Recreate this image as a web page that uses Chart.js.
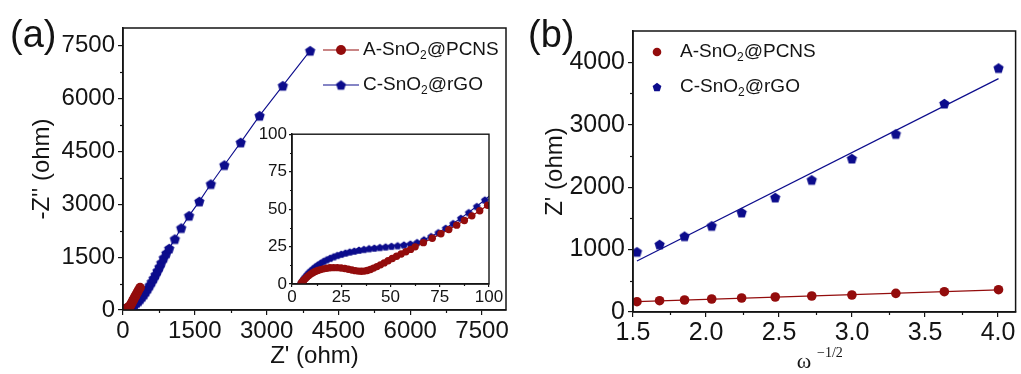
<!DOCTYPE html>
<html>
<head>
<meta charset="utf-8">
<title>EIS of SnO2 composites</title>
<script src="https://cdn.jsdelivr.net/npm/chart.js@4.4.1/dist/chart.umd.min.js"></script>
<style>
  html, body { margin: 0; padding: 0; background: #fff; }
  body { position: relative; width: 1021px; height: 374px; overflow: hidden; }
  .panel { position: absolute; }
</style>
</head>
<body>
<canvas class="panel" id="nyquist" width="520" height="374" style="left:0;top:0"></canvas>
<canvas class="panel" id="nyquistZoom" width="265" height="188" style="left:245px;top:122px"></canvas>
<canvas class="panel" id="warburg" width="511" height="374" style="left:510px;top:0"></canvas>
<script>
// ---------- data ----------
// Low-frequency points (Warburg region): omega^-1/2 and the real impedance Z' (ohm)
const omegaInvSqrt = [1.527, 1.682, 1.853, 2.039, 2.244, 2.474, 2.724, 2.999, 3.300, 3.632, 4.003];
const pcnsZreLF = [165, 181, 192, 208, 224, 240, 256, 272, 299, 325, 357];
const rgoZreLF  = [965, 1083, 1216, 1381, 1595, 1835, 2117, 2459, 2853, 3339, 3909];
// -Z'' (ohm) at the same low-frequency points
const pcnsZimLF = [155, 195, 225, 265, 305, 345, 385, 425, 490, 560, 635];
const rgoZimLF  = [1748, 2015, 2327, 2676, 3082, 3575, 4115, 4756, 5514, 6365, 7358];

// High/mid-frequency points, A-SnO2@PCNS: Z' and -Z'' (ohm)
const pcnsZreHF = [4.6, 5.0, 5.5, 6.1, 6.8, 7.6, 8.5, 9.5, 10.6, 11.8, 13.1, 14.5, 16.0, 17.6, 19.3, 21.1,
  23.0, 24.9, 26.8, 28.6, 30.4, 32.1, 33.7, 35.2, 36.7, 38.2, 39.8, 41.4, 43.1, 44.9, 46.8, 48.8, 50.9,
  53.1, 55.4, 57.8, 60.2, 62.5, 66.7, 71.2, 75.6, 79.6, 83.6, 87.5, 91.3, 95.3, 99.3, 103.3,
  108, 115, 122, 129, 136, 143, 150, 157];
const pcnsZimHF = [0.3, 1.0, 1.8, 2.7, 3.6, 4.6, 5.6, 6.6, 7.5, 8.3, 9.0, 9.6, 10.1, 10.5, 10.8, 10.9,
  10.9, 10.7, 10.3, 9.8, 9.3, 8.9, 8.6, 8.5, 8.6, 9.0, 9.7, 10.6, 11.6, 12.8, 14.1, 15.5, 17.0,
  18.5, 20.0, 21.5, 23.1, 24.8, 27.6, 30.5, 33.5, 36.3, 39.3, 42.4, 45.5, 48.9, 52.6, 56.5,
  60, 67, 75, 84, 94, 105, 118, 133];

// High/mid-frequency points, C-SnO2@rGO: Z' and -Z'' (ohm)
const rgoZreHF = [4.6, 5.0, 5.5, 6.1, 6.8, 7.6, 8.5, 9.5, 10.6, 11.8, 13.1, 14.5, 16.0, 17.6, 19.3, 21.1,
  23.0, 25.0, 27.1, 29.3, 31.6, 34.0, 36.5, 39.1, 41.8, 44.6, 47.5, 50.5, 53.6, 56.8, 60.1, 63.5, 67.0,
  70.6, 74.3, 78.0, 81.8, 85.7, 89.7, 93.8, 97.9, 102.0,
  110, 130, 160, 200, 240, 280, 320, 360, 400, 440, 480, 520, 560, 600, 640, 680, 720, 760, 800, 850, 905];
const rgoZimHF = [0.5, 1.5, 2.6, 3.8, 5.0, 6.3, 7.6, 8.9, 10.2, 11.5, 12.8, 14.0, 15.2, 16.3, 17.3, 18.3,
  19.2, 20.0, 20.8, 21.5, 22.1, 22.7, 23.2, 23.7, 24.1, 24.5, 24.9, 25.3, 25.7, 26.2, 26.8, 27.8, 29.6,
  31.8, 34.4, 37.3, 40.5, 44.0, 47.8, 51.9, 56.2, 60.8,
  66, 78, 95, 125, 160, 205, 255, 315, 380, 450, 530, 615, 705, 800, 900, 1000, 1110, 1220, 1340, 1480, 1610];

// Tick labels
const zTicksMain = [0, 1500, 3000, 4500, 6000, 7500];
const zTicksZoom = [0, 25, 50, 75, 100];
const omegaTicks = [1.5, 2.0, 2.5, 3.0, 3.5, 4.0];
const zTicksWarburg = [0, 1000, 2000, 3000, 4000];

const seriesNames = ['A-SnO2@PCNS', 'C-SnO2@rGO'];

// ---------- styling ----------
const RED = '#930c0c';
const BLUE = '#0c0c8c';
const INK = '#141414';
const SANS = "'Liberation Sans', Arial, Helvetica, sans-serif";
const SERIF = "'Liberation Serif', 'Times New Roman', serif";

Chart.defaults.font.family = SANS;
Chart.defaults.color = INK;

function pentagon(r, color) {
  const s = Math.ceil(2 * r + 2);
  const c = document.createElement('canvas');
  c.width = s; c.height = s;
  const g = c.getContext('2d');
  g.fillStyle = color;
  g.beginPath();
  const cx = s / 2, cy = s / 2 + r * 0.1;
  for (let i = 0; i < 5; i++) {
    const a = -Math.PI / 2 + i * 2 * Math.PI / 5;
    const px = cx + r * Math.cos(a), py = cy + r * Math.sin(a);
    if (i) g.lineTo(px, py); else g.moveTo(px, py);
  }
  g.closePath();
  g.fill();
  return c;
}

const toPoints = (xs, ys) => xs.map((x, i) => ({ x, y: ys[i] }));
const pcnsNyquist = toPoints(pcnsZreHF.concat(pcnsZreLF), pcnsZimHF.concat(pcnsZimLF));
const rgoNyquist = toPoints(rgoZreHF.concat(rgoZreLF), rgoZimHF.concat(rgoZimLF));

// least-squares line through the Warburg points
function linearFit(xs, ys) {
  const n = xs.length;
  const mx = xs.reduce((a, b) => a + b, 0) / n;
  const my = ys.reduce((a, b) => a + b, 0) / n;
  let sxy = 0, sxx = 0;
  for (let i = 0; i < n; i++) { sxy += (xs[i] - mx) * (ys[i] - my); sxx += (xs[i] - mx) ** 2; }
  const k = sxy / sxx;
  return x => my + k * (x - mx);
}
function fitLine(xs, ys) {
  const f = linearFit(xs, ys);
  const x0 = xs[0], x1 = xs[xs.length - 1];
  return [{ x: x0, y: f(x0) }, { x: x1, y: f(x1) }];
}

function minorValues(majors, min, max) {
  const step = majors[1] - majors[0];
  const out = [];
  const first = majors[0] - step / 2;
  if (first > min) out.push(first);
  majors.forEach(v => { const m = v + step / 2; if (m < max) out.push(m); });
  return out;
}

// frame, white plot background and minor ticks
const framePlugin = {
  id: 'frame',
  beforeDraw(chart, args, opts) {
    if (opts.fill) {
      const a = chart.chartArea, ctx = chart.ctx;
      ctx.save();
      ctx.fillStyle = '#fff';
      ctx.fillRect(a.left, a.top, a.right - a.left, a.bottom - a.top);
      ctx.restore();
    }
  },
  afterDraw(chart, args, opts) {
    const a = chart.chartArea, ctx = chart.ctx;
    ctx.save();
    ctx.strokeStyle = INK;
    ctx.lineWidth = opts.lineWidth || 1.5;
    ctx.strokeRect(a.left, a.top, a.right - a.left, a.bottom - a.top);
    ctx.lineWidth = 1.2;
    const len = opts.minorLength || 3;
    const xs = chart.scales.x, ys = chart.scales.y;
    (opts.minorX || []).forEach(v => {
      const p = Math.round(xs.getPixelForValue(v)) + 0.5;
      ctx.beginPath(); ctx.moveTo(p, a.bottom); ctx.lineTo(p, a.bottom + len); ctx.stroke();
    });
    (opts.minorY || []).forEach(v => {
      const p = Math.round(ys.getPixelForValue(v)) + 0.5;
      ctx.beginPath(); ctx.moveTo(a.left - len, p); ctx.lineTo(a.left, p); ctx.stroke();
    });
    ctx.restore();
  }
};

// text with a subscript "2" after "SnO"
function drawFormula(ctx, text, x, y, size) {
  const idx = text.indexOf('SnO2') + 4;
  const head = text.slice(0, idx - 1), tail = text.slice(idx);
  ctx.font = size + 'px ' + SANS;
  ctx.textBaseline = 'middle';
  ctx.textAlign = 'left';
  ctx.fillStyle = INK;
  ctx.fillText(head, x, y);
  let w = ctx.measureText(head).width;
  ctx.font = Math.round(size * 0.62) + 'px ' + SANS;
  ctx.fillText('2', x + w, y + size * 0.3);
  w += ctx.measureText('2').width;
  ctx.font = size + 'px ' + SANS;
  ctx.fillText(tail, x + w, y);
}

const annotatePlugin = {
  id: 'annotate',
  afterDraw(chart, args, opts) {
    const ctx = chart.ctx;
    ctx.save();
    if (opts.panel) {
      ctx.font = '38px ' + SANS;
      ctx.fillStyle = INK;
      ctx.textBaseline = 'alphabetic';
      ctx.textAlign = 'left';
      ctx.fillText(opts.panel.text, opts.panel.x, opts.panel.y);
    }
    if (opts.legend) {
      const L = opts.legend;
      L.items.forEach((it, i) => {
        const y = L.y + i * L.gap;
        if (L.line) {
          ctx.strokeStyle = it.color;
          ctx.lineWidth = 1.2;
          ctx.beginPath(); ctx.moveTo(L.x - L.line, y); ctx.lineTo(L.x + L.line, y); ctx.stroke();
        }
        if (it.shape === 'circle') {
          ctx.fillStyle = it.color;
          ctx.beginPath(); ctx.arc(L.x, y, it.r, 0, Math.PI * 2); ctx.fill();
        } else {
          const img = pentagon(it.r, it.color);
          ctx.drawImage(img, L.x - img.width / 2, y - img.height / 2);
        }
        drawFormula(ctx, it.text, L.textX, y, L.size);
      });
    }
    if (opts.omegaTitle) {
      const t = opts.omegaTitle;
      ctx.fillStyle = INK;
      ctx.textBaseline = 'middle';
      ctx.textAlign = 'center';
      ctx.font = '22px ' + SERIF;
      ctx.fillText('\u03C9', t.x, t.y);
      ctx.textAlign = 'left';
      ctx.font = '14px ' + SERIF;
      ctx.fillText('\u22121/2', t.x + 13, t.y - 9);
    }
    ctx.restore();
  }
};

function axis(opts) {
  return {
    type: 'linear',
    min: opts.min, max: opts.max,
    afterBuildTicks: s => { s.ticks = opts.ticks.map(v => ({ value: v })); },
    afterFit: s => { if (opts.width != null) s.width = opts.width; if (opts.height != null) s.height = opts.height; },
    grid: { display: true, drawOnChartArea: false, drawTicks: true, tickLength: opts.tickLength, color: INK, lineWidth: 1.2 },
    border: { display: true, color: INK, width: 1.5 },
    ticks: {
      font: { size: opts.fontSize }, color: INK, padding: opts.padding,
      maxRotation: 0, autoSkip: false,
      callback: opts.format || (v => String(v))
    },
    title: opts.title ? { display: true, text: opts.title, font: { size: opts.titleSize }, color: INK, padding: opts.titlePadding } : { display: false }
  };
}

function scatterSet(label, data, color, r, pent, showLine) {
  return {
    label, data,
    showLine: showLine,
    borderColor: color, backgroundColor: color, borderWidth: 1.1,
    pointStyle: pent ? pentagon(r, color) : 'circle',
    pointRadius: r, pointBorderWidth: 0, pointHoverRadius: r,
    tension: 0
  };
}

const common = {
  responsive: false, animation: false, devicePixelRatio: 1,
  events: [],
  plugins: { legend: { display: false }, tooltip: { enabled: false } }
};

// ---------- (a) Nyquist plot ----------
new Chart(document.getElementById('nyquist'), {
  type: 'scatter',
  data: {
    datasets: [
      scatterSet(seriesNames[0], pcnsNyquist, RED, 4.8, false, true),
      scatterSet(seriesNames[1], rgoNyquist, BLUE, 5.4, true, true)
    ]
  },
  options: Object.assign({}, common, {
    layout: { padding: { left: 0, top: 28, right: 14, bottom: 0 } },
    scales: {
      x: axis({ min: 0, max: 8000, ticks: zTicksMain, height: 64, tickLength: 5, fontSize: 24, padding: 2,
        title: "Z' (ohm)", titleSize: 24, titlePadding: { top: 0, bottom: 3 } }),
      y: axis({ min: 0, max: 8000, ticks: zTicksMain, width: 123, tickLength: 5, fontSize: 24, padding: 3,
        title: "-Z'' (ohm)", titleSize: 24, titlePadding: { top: 28, bottom: 0 } })
    },
    plugins: Object.assign({}, common.plugins, {
      frame: { minorX: minorValues(zTicksMain, 0, 8000), minorY: minorValues(zTicksMain, 0, 8000), minorLength: 3 },
      annotate: {
        panel: { text: '(a)', x: 10, y: 47 },
        legend: {
          x: 341, y: 50, gap: 35, line: 18, textX: 363, size: 19,
          items: [
            { text: seriesNames[0], color: RED, shape: 'circle', r: 5 },
            { text: seriesNames[1], color: BLUE, shape: 'pentagon', r: 5.2 }
          ]
        }
      }
    })
  }),
  plugins: [framePlugin, annotatePlugin]
});

// ---------- (a) inset: high-frequency region ----------
new Chart(document.getElementById('nyquistZoom'), {
  type: 'scatter',
  data: {
    datasets: [
      scatterSet(seriesNames[0], pcnsNyquist, RED, 3.7, false, true),
      scatterSet(seriesNames[1], rgoNyquist, BLUE, 4.0, true, true)
    ]
  },
  options: Object.assign({}, common, {
    layout: { padding: { left: 0, top: 12, right: 21, bottom: 0 } },
    scales: {
      x: axis({ min: 0, max: 100, ticks: zTicksZoom, height: 26, tickLength: 3, fontSize: 17, padding: 0 }),
      y: axis({ min: 0, max: 100, ticks: zTicksZoom, width: 47, tickLength: 3, fontSize: 17, padding: 2 })
    },
    plugins: Object.assign({}, common.plugins, {
      frame: { fill: true, lineWidth: 1.4, minorX: minorValues(zTicksZoom, 0, 100), minorY: minorValues(zTicksZoom, 0, 100), minorLength: 2 },
      annotate: {}
    })
  }),
  plugins: [framePlugin, annotatePlugin]
});

// ---------- (b) Z' versus omega^-1/2 ----------
new Chart(document.getElementById('warburg'), {
  type: 'scatter',
  data: {
    datasets: [
      scatterSet(seriesNames[0], toPoints(omegaInvSqrt, pcnsZreLF), RED, 4.8, false, false),
      scatterSet(seriesNames[1], toPoints(omegaInvSqrt, rgoZreLF), BLUE, 5.4, true, false),
      { label: 'fit-1', data: fitLine(omegaInvSqrt, pcnsZreLF), showLine: true, borderColor: RED, borderWidth: 1.2, pointRadius: 0 },
      { label: 'fit-2', data: fitLine(omegaInvSqrt, rgoZreLF), showLine: true, borderColor: BLUE, borderWidth: 1.2, pointRadius: 0 }
    ]
  },
  options: Object.assign({}, common, {
    layout: { padding: { left: 0, top: 31, right: 5, bottom: 0 } },
    scales: {
      x: axis({ min: 1.5, max: 4.12, ticks: omegaTicks, height: 62, tickLength: 5, fontSize: 25, padding: 1,
        format: v => v.toFixed(1) }),
      y: axis({ min: 0, max: 4500, ticks: zTicksWarburg, width: 123, tickLength: 5, fontSize: 25, padding: 3,
        title: "Z' (ohm)", titleSize: 24, titlePadding: { top: 31, bottom: 0 } })
    },
    plugins: Object.assign({}, common.plugins, {
      frame: { minorX: minorValues(omegaTicks, 1.5, 4.12), minorY: minorValues(zTicksWarburg, 0, 4500), minorLength: 3 },
      annotate: {
        panel: { text: '(b)', x: 18, y: 47 },
        omegaTitle: { x: 294, y: 362 },
        legend: {
          x: 147, y: 52, gap: 35, line: 0, textX: 170, size: 19,
          items: [
            { text: seriesNames[0], color: RED, shape: 'circle', r: 4.3 },
            { text: seriesNames[1], color: BLUE, shape: 'pentagon', r: 4.6 }
          ]
        }
      }
    })
  }),
  plugins: [framePlugin, annotatePlugin]
});
</script>
</body>
</html>
